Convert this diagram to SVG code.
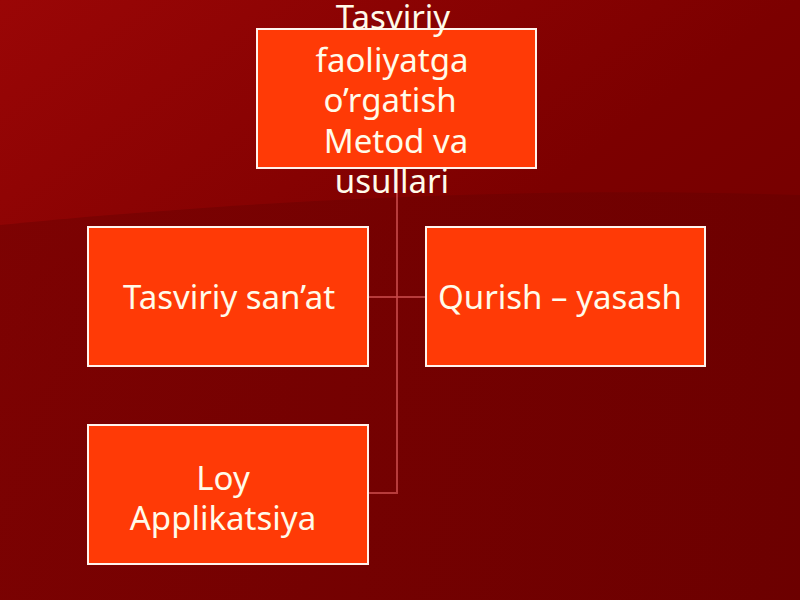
<svg xmlns="http://www.w3.org/2000/svg" width="800" height="600" viewBox="0 0 800 600">
<defs>
<linearGradient id="bg" x1="0" y1="0" x2="1" y2="1">
<stop offset="0" stop-color="#9a0606"/>
<stop offset="0.5" stop-color="#7c0000"/>
<stop offset="1" stop-color="#6e0000"/>
</linearGradient>
<linearGradient id="bg2" x1="0" y1="0" x2="1" y2="0">
<stop offset="0" stop-color="#7a0202"/>
<stop offset="1" stop-color="#6c0000"/>
</linearGradient>
<style>
.box{fill:#ff3a06;stroke:#fff4ee;stroke-width:2}
.t{font-family:"Noto Sans","Open Sans",sans-serif;font-size:33px;fill:#fffbea;text-anchor:middle}
.c{fill:none;stroke:#c84a4a;stroke-width:2;stroke-opacity:0.8}
</style>
</defs>
<rect width="800" height="600" fill="url(#bg)"/>
<path d="M0 225 C200 205 500 185 800 195 L800 600 L0 600 Z" fill="url(#bg2)" opacity="0.85"/>
<g id="connectors">
<path class="c" d="M397 168 V493 H368"/>
<path class="c" d="M368 297 H426"/>
</g>
<g id="n0">
<rect class="box" x="257" y="29" width="279" height="139"/>
<text class="t" x="393" y="29">Tasviriy</text>
<text class="t" x="392" y="72">faoliyatga</text>
<text class="t" x="390" y="112">o’rgatish</text>
<text class="t" x="396" y="153">Metod va</text>
<text class="t" x="392" y="193">usullari</text>
</g>
<g id="n1">
<rect class="box" x="88" y="227" width="280" height="139"/>
<text class="t" x="229" y="309">Tasviriy san’at</text>
</g>
<g id="n2">
<rect class="box" x="426" y="227" width="279" height="139"/>
<text class="t" x="560" y="309">Qurish – yasash</text>
</g>
<g id="n3">
<rect class="box" x="88" y="425" width="280" height="139"/>
<text class="t" x="223" y="490">Loy</text>
<text class="t" x="223" y="530">Applikatsiya</text>
</g>
</svg>
